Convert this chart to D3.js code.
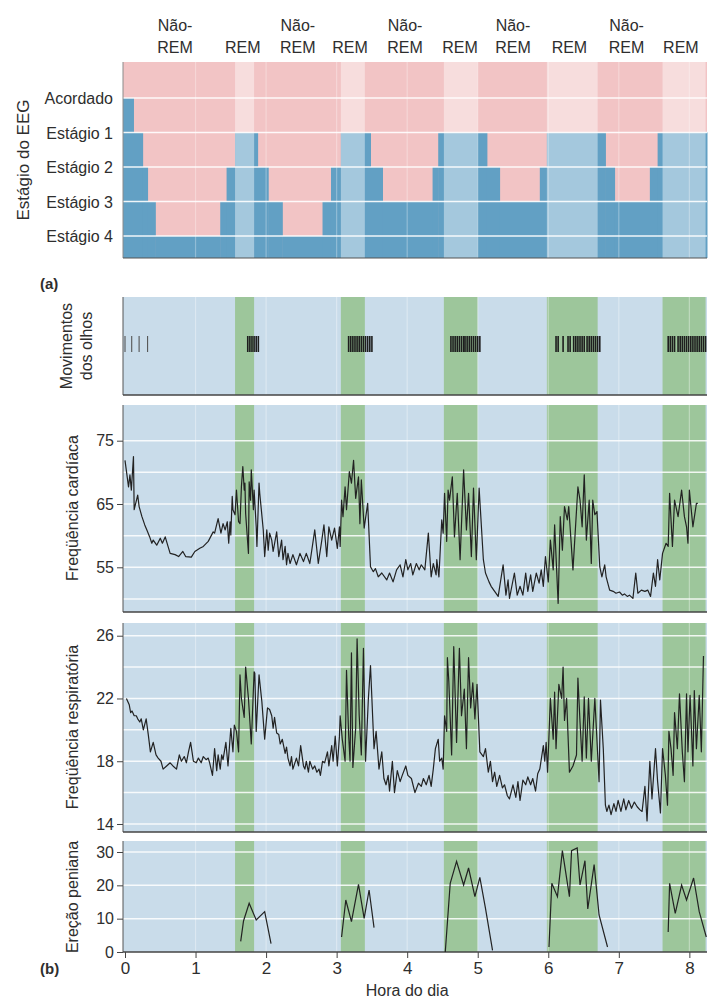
<!DOCTYPE html>
<html><head><meta charset="utf-8">
<script src="https://cdn.jsdelivr.net/npm/d3@7"></script>
<style>
body{margin:0;background:#fff}
text{font-family:"Liberation Sans",Arial,Helvetica,sans-serif;fill:#2e2e2e}
</style>
</head><body>
<svg id="c" width="722" height="1005"></svg>
<script>
// ---------------- DATA ----------------
const stageLabels = ["Acordado", "Estágio 1", "Estágio 2", "Estágio 3", "Estágio 4"];
// [start hour, stage index] (REM drawn at Estágio 1 level)
const stageSteps = [[0,0],[0.12,1],[0.25,2],[0.32,3],[0.43,4],[1.35,3],[1.44,2],[1.56,1],[1.83,1],[1.88,2],[2.03,3],[2.23,4],[2.80,3],[2.92,2],[3.06,1],[3.40,1],[3.48,2],[3.65,3],[4.36,2],[4.44,1],[4.52,1],[5.13,2],[5.31,3],[5.88,2],[5.98,1],[6.81,2],[6.94,3],[7.44,2],[7.55,1]];
const remPeriods = [[1.56,1.83],[3.06,3.40],[4.52,5.00],[5.98,6.70],[7.62,8.23]];
const phaseLabels = ["Não-REM","REM","Não-REM","REM","Não-REM","REM","Não-REM","REM","Não-REM","REM"];
const phaseHours = [0.71,1.67,2.45,3.19,3.97,4.75,5.50,6.30,7.11,7.88];

const eyeMovements = [0.00,0.095,0.20,0.32,
 1.74,1.77,1.80,1.83,1.86,1.89,
 3.17,3.20,3.23,3.26,3.29,3.32,3.35,3.38,3.41,3.44,3.47,3.50,
 4.62,4.65,4.68,4.71,4.74,4.77,4.80,4.82,4.85,4.88,4.91,4.94,4.97,5.00,5.03,
 6.11,6.14,6.21,6.28,6.31,6.36,6.39,6.42,6.45,6.48,6.51,6.55,6.58,6.61,6.64,6.67,6.70,6.73,
 7.70,7.73,7.76,7.79,7.84,7.87,7.90,7.93,7.96,7.99,8.02,8.05,8.08,8.11,8.14,8.17,8.20,8.23];

const heartRate = [[0.00,71.9],[0.05,67.7],[0.07,69.6],[0.09,67.2],[0.12,72.5],[0.13,64.1],[0.18,66.4],[0.20,64.6],[0.24,63.0],[0.28,61.7],[0.31,60.9],[0.35,59.8],[0.38,58.8],[0.40,59.3],[0.45,58.5],[0.50,59.6],[0.53,58.8],[0.57,59.8],[0.61,58.3],[0.64,57.2],[0.71,57.0],[0.76,56.7],[0.82,57.5],[0.86,56.7],[0.94,56.6],[0.99,57.5],[1.06,58.0],[1.11,58.3],[1.18,59.1],[1.25,60.6],[1.27,60.4],[1.32,62.7],[1.36,60.4],[1.39,61.9],[1.42,60.9],[1.45,62.2],[1.47,58.8],[1.49,62.2],[1.50,60.1],[1.52,66.2],[1.53,64.1],[1.56,63.3],[1.58,67.2],[1.61,62.2],[1.63,61.9],[1.65,67.7],[1.67,70.9],[1.69,67.2],[1.70,68.3],[1.71,63.5],[1.75,57.2],[1.76,68.5],[1.78,65.6],[1.79,70.4],[1.82,64.1],[1.83,67.2],[1.86,61.4],[1.87,58.3],[1.90,68.3],[1.91,66.7],[1.96,60.9],[1.98,56.7],[2.01,60.9],[2.03,57.7],[2.05,60.4],[2.08,59.3],[2.10,57.5],[2.15,60.6],[2.18,56.7],[2.22,59.3],[2.24,56.2],[2.27,58.3],[2.29,55.4],[2.31,57.2],[2.34,55.6],[2.38,57.0],[2.43,55.4],[2.48,57.2],[2.53,55.9],[2.57,57.2],[2.62,55.6],[2.69,60.9],[2.74,55.6],[2.79,59.3],[2.82,61.7],[2.86,56.7],[2.89,61.4],[2.93,59.3],[2.97,61.2],[3.01,58.0],[3.04,61.4],[3.05,58.3],[3.07,65.6],[3.09,63.0],[3.12,67.7],[3.14,64.1],[3.18,70.1],[3.21,68.3],[3.24,71.9],[3.27,65.9],[3.31,69.3],[3.33,61.9],[3.35,68.8],[3.39,61.2],[3.44,65.1],[3.48,55.1],[3.52,54.3],[3.55,54.8],[3.59,53.5],[3.64,54.1],[3.71,53.0],[3.75,54.1],[3.80,52.7],[3.85,54.6],[3.90,55.4],[3.94,53.5],[3.98,56.2],[4.01,54.6],[4.05,55.6],[4.08,53.8],[4.13,55.6],[4.17,54.6],[4.20,55.4],[4.25,54.6],[4.30,60.4],[4.34,53.5],[4.37,55.6],[4.41,53.8],[4.42,56.2],[4.45,53.5],[4.49,62.5],[4.51,60.4],[4.53,66.7],[4.56,59.1],[4.58,67.2],[4.60,65.6],[4.64,69.3],[4.67,59.8],[4.71,66.7],[4.75,56.2],[4.80,70.4],[4.84,60.9],[4.87,66.7],[4.91,56.7],[4.94,67.5],[4.98,56.2],[5.02,67.5],[5.08,56.2],[5.11,54.1],[5.16,52.7],[5.19,52.0],[5.24,51.2],[5.29,50.4],[5.36,55.4],[5.40,50.6],[5.43,53.0],[5.45,50.1],[5.52,54.1],[5.56,50.6],[5.60,52.0],[5.64,50.6],[5.68,54.1],[5.71,51.2],[5.75,53.8],[5.78,51.2],[5.83,54.1],[5.87,52.5],[5.90,54.6],[5.93,52.0],[5.96,56.7],[6.00,52.7],[6.03,59.3],[6.07,54.6],[6.09,61.7],[6.14,49.3],[6.17,63.0],[6.20,57.7],[6.23,64.6],[6.27,62.5],[6.29,64.6],[6.35,54.6],[6.42,67.7],[6.45,65.6],[6.48,61.4],[6.51,69.6],[6.54,59.3],[6.58,65.6],[6.61,55.6],[6.63,65.6],[6.66,63.3],[6.69,63.8],[6.73,55.1],[6.76,53.5],[6.80,55.4],[6.82,53.5],[6.87,51.4],[6.92,51.2],[6.96,50.9],[7.01,51.1],[7.05,50.6],[7.08,50.8],[7.12,50.4],[7.15,50.6],[7.20,50.1],[7.24,54.1],[7.27,50.9],[7.32,51.4],[7.37,51.2],[7.41,51.4],[7.45,50.4],[7.49,54.1],[7.52,52.0],[7.55,56.2],[7.58,53.0],[7.62,57.2],[7.67,58.8],[7.70,58.3],[7.72,66.7],[7.76,58.3],[7.79,65.6],[7.84,63.0],[7.89,67.2],[7.93,63.0],[7.96,61.4],[7.98,58.8],[8.00,67.2],[8.05,61.4],[8.10,65.1],[8.12,65.1]];

const respRate = [[0.02,22.0],[0.06,21.6],[0.08,21.1],[0.10,21.2],[0.13,20.9],[0.16,20.9],[0.18,20.7],[0.21,20.5],[0.23,20.7],[0.26,20.0],[0.30,20.7],[0.33,19.7],[0.36,18.6],[0.40,19.2],[0.44,18.4],[0.47,18.2],[0.51,18.0],[0.54,17.5],[0.59,17.7],[0.64,17.9],[0.68,17.7],[0.73,17.5],[0.77,18.4],[0.80,18.0],[0.84,18.3],[0.87,17.9],[0.90,18.6],[0.93,19.2],[0.97,18.0],[1.01,17.9],[1.04,18.2],[1.08,17.9],[1.11,18.3],[1.15,18.1],[1.18,18.2],[1.20,17.9],[1.24,17.1],[1.27,18.8],[1.30,17.4],[1.32,18.4],[1.35,17.5],[1.37,18.4],[1.39,18.1],[1.43,19.2],[1.46,17.7],[1.50,20.1],[1.53,18.6],[1.55,20.3],[1.58,19.9],[1.61,18.6],[1.63,23.5],[1.65,22.0],[1.69,20.8],[1.71,24.0],[1.75,22.0],[1.79,19.1],[1.83,23.7],[1.84,23.6],[1.86,19.9],[1.90,23.5],[1.94,21.8],[1.98,19.4],[2.02,21.4],[2.05,21.3],[2.08,20.9],[2.10,20.1],[2.12,20.8],[2.15,19.8],[2.18,19.7],[2.20,19.1],[2.23,19.4],[2.27,18.5],[2.29,18.9],[2.31,18.2],[2.34,17.7],[2.36,18.3],[2.38,17.5],[2.43,18.2],[2.46,17.7],[2.49,19.0],[2.53,17.7],[2.55,17.5],[2.57,18.0],[2.60,17.3],[2.62,18.0],[2.66,17.5],[2.69,17.7],[2.72,17.3],[2.75,17.5],[2.77,17.1],[2.80,18.0],[2.83,17.9],[2.87,18.6],[2.89,17.7],[2.93,19.0],[2.95,18.0],[2.98,19.6],[3.01,17.7],[3.04,19.6],[3.05,20.9],[3.08,19.4],[3.12,18.0],[3.14,23.8],[3.17,19.7],[3.19,18.0],[3.21,24.9],[3.23,17.6],[3.27,20.1],[3.29,25.8],[3.32,20.9],[3.35,18.4],[3.38,25.2],[3.41,18.0],[3.45,22.0],[3.48,24.1],[3.51,20.9],[3.53,18.8],[3.56,19.9],[3.60,17.5],[3.64,18.6],[3.67,16.9],[3.70,16.5],[3.73,17.1],[3.75,16.1],[3.79,18.0],[3.82,16.0],[3.86,17.4],[3.90,16.7],[3.93,17.1],[3.98,17.7],[4.01,17.1],[4.06,16.9],[4.11,16.0],[4.16,16.6],[4.20,16.4],[4.23,16.9],[4.27,16.5],[4.31,17.1],[4.34,16.4],[4.37,17.5],[4.40,18.8],[4.44,19.4],[4.46,18.0],[4.49,18.2],[4.51,17.5],[4.53,20.9],[4.56,19.9],[4.57,24.6],[4.59,23.1],[4.63,18.4],[4.66,25.3],[4.70,19.2],[4.74,25.2],[4.77,20.9],[4.81,22.6],[4.84,18.8],[4.87,24.6],[4.90,21.4],[4.93,23.0],[4.96,20.7],[4.99,22.9],[5.03,18.6],[5.08,18.3],[5.11,18.8],[5.15,17.3],[5.18,18.0],[5.21,16.7],[5.24,17.3],[5.27,16.4],[5.31,17.1],[5.35,16.3],[5.38,16.5],[5.42,15.8],[5.45,15.6],[5.50,16.5],[5.54,15.7],[5.57,16.7],[5.60,15.5],[5.64,16.8],[5.68,16.5],[5.71,17.0],[5.75,16.5],[5.78,16.9],[5.82,16.1],[5.85,17.2],[5.88,17.5],[5.93,19.0],[5.95,18.0],[5.97,19.2],[5.99,17.3],[6.03,22.0],[6.07,19.4],[6.09,22.4],[6.11,18.8],[6.15,22.9],[6.19,22.0],[6.21,24.0],[6.23,20.6],[6.26,22.0],[6.30,17.3],[6.35,17.7],[6.40,18.4],[6.42,23.3],[6.45,20.5],[6.48,18.0],[6.51,22.1],[6.54,18.2],[6.57,22.0],[6.61,18.0],[6.66,22.0],[6.72,16.7],[6.74,21.9],[6.78,18.8],[6.81,15.2],[6.83,14.8],[6.86,15.2],[6.89,14.6],[6.93,15.3],[6.96,14.8],[6.99,15.5],[7.03,14.8],[7.07,15.6],[7.10,14.9],[7.14,15.5],[7.18,15.0],[7.22,15.4],[7.26,15.1],[7.30,14.9],[7.33,14.8],[7.37,16.4],[7.40,14.2],[7.44,18.0],[7.47,15.6],[7.52,18.8],[7.55,16.7],[7.59,14.7],[7.62,18.8],[7.66,17.1],[7.69,15.2],[7.71,19.9],[7.74,18.8],[7.77,17.1],[7.79,21.1],[7.83,18.8],[7.86,22.3],[7.90,18.6],[7.93,16.7],[7.96,22.3],[7.98,18.6],[8.01,22.2],[8.05,17.7],[8.07,22.5],[8.10,18.8],[8.14,22.2],[8.17,18.6],[8.20,24.7]];

const erectionEpisodes = [
 [[1.64,3.2],[1.68,9.3],[1.76,14.6],[1.86,9.6],[1.98,12.1],[2.07,2.5]],
 [[3.07,4.5],[3.13,15.6],[3.21,9.1],[3.31,20.3],[3.39,10.1],[3.46,18.6],[3.53,7.3]],
 [[4.54,0.0],[4.61,20.6],[4.70,27.2],[4.80,20.1],[4.87,25.2],[4.96,16.6],[5.03,22.4],[5.11,13.1],[5.21,0.5]],
 [[6.01,1.5],[6.05,20.6],[6.13,16.6],[6.20,30.4],[6.30,16.6],[6.33,30.4],[6.41,31.2],[6.45,20.1],[6.52,27.4],[6.56,12.9],[6.65,26.2],[6.72,11.1],[6.84,1.5]],
 [[7.70,6.0],[7.72,20.6],[7.80,11.6],[7.89,20.1],[7.96,15.6],[8.06,22.2],[8.14,12.1],[8.24,4.5]]
];

const hourTicks = [0,1,2,3,4,5,6,7,8];
const heartTicks = [55,65,75];
const heartGrid = [50,55,60,65,70,75];
const respTicks = [14,18,22,26];
const respGrid = [14,16,18,20,22,24,26];
const erectionTicks = [0,10,20,30];

// ---------------- STYLE ----------------
const PINK = "#f2c4c5", BLUE = "#62a0c4", BG = "#c9dcea", GREEN = "#9dc69b", INK = "#222";

const svg = d3.select("#c");
const L = 123, R = 707;
const x = d3.scaleLinear().domain([0, 8.25]).range([125, 707]);

// ---------------- (a) HYPNOGRAM ----------------
const hT = 62, hB = 258;
const yStage = d3.scalePoint().domain(d3.range(5)).range([98, 236]);
const hg = svg.append("g");
hg.append("rect").attr("x", L).attr("y", hT).attr("width", R - L).attr("height", hB - hT).attr("fill", PINK);
hg.selectAll("rect.st").data(stageSteps).join("rect").attr("class","st")
  .attr("x", (d,i) => i === 0 ? L : x(d[0]))
  .attr("width", (d,i) => (i < stageSteps.length - 1 ? x(stageSteps[i+1][0]) : R) - (i === 0 ? L : x(d[0])) + 0.5)
  .attr("y", d => yStage(d[1]))
  .attr("height", d => hB - yStage(d[1]))
  .attr("fill", BLUE);
hg.selectAll("rect.rem").data(remPeriods).join("rect").attr("class","rem")
  .attr("x", d => x(d[0])).attr("width", d => x(d[1]) - x(d[0]))
  .attr("y", hT).attr("height", hB - hT).attr("fill", "#fff").attr("opacity", 0.42);
hg.selectAll("line.vg").data(hourTicks.slice(1)).join("line").attr("class","vg")
  .attr("x1", d => x(d)).attr("x2", d => x(d)).attr("y1", hT).attr("y2", hB)
  .attr("stroke", "#fff").attr("stroke-opacity", 0.3).attr("stroke-width", 1.2);
hg.selectAll("line.hg").data(d3.range(5)).join("line").attr("class","hg")
  .attr("x1", L).attr("x2", R).attr("y1", d => yStage(d)).attr("y2", d => yStage(d))
  .attr("stroke", "#fff").attr("stroke-width", 1.6).attr("stroke-opacity", 0.9);
hg.append("line").attr("x1", L).attr("x2", L).attr("y1", hT).attr("y2", hB).attr("stroke", "#8a8a8a");
hg.append("line").attr("x1", L).attr("x2", R).attr("y1", hB).attr("y2", hB).attr("stroke", "#555").attr("stroke-width", 1.2);
hg.selectAll("text.sl").data(stageLabels).join("text").attr("class","sl")
  .attr("x", 113).attr("y", (d,i) => yStage(i) + 6).attr("text-anchor", "end")
  .attr("font-size", 16).text(d => d);
hg.append("text").attr("transform", "translate(29,160) rotate(-90)").attr("text-anchor", "middle")
  .attr("font-size", 17).text("Estágio do EEG");

// phase labels on top
phaseLabels.forEach((lab, i) => {
  const cx = x(phaseHours[i]);
  if (lab.startsWith("Não")) {
    svg.append("text").attr("x", cx).attr("y", 31).attr("text-anchor", "middle").attr("font-size", 16).text("Não-");
    svg.append("text").attr("x", cx).attr("y", 53).attr("text-anchor", "middle").attr("font-size", 16).text("REM");
  } else {
    svg.append("text").attr("x", cx).attr("y", 53).attr("text-anchor", "middle").attr("font-size", 16).text(lab);
  }
});
svg.append("text").attr("x", 40).attr("y", 289).attr("font-size", 15).attr("font-weight", "bold").text("(a)");
svg.append("text").attr("x", 40).attr("y", 974).attr("font-size", 15).attr("font-weight", "bold").text("(b)");

// ---------------- (b) PANELS ----------------
function panelBase(top, bottom, grid, y) {
  const g = svg.append("g");
  g.append("rect").attr("x", L).attr("y", top).attr("width", R - L).attr("height", bottom - top).attr("fill", BG);
  g.selectAll("rect.rem").data(remPeriods).join("rect").attr("class","rem")
    .attr("x", d => x(d[0])).attr("width", d => x(d[1]) - x(d[0]))
    .attr("y", top).attr("height", bottom - top).attr("fill", GREEN);
  g.selectAll("line.vg").data(hourTicks.slice(1)).join("line").attr("class","vg")
    .attr("x1", d => x(d)).attr("x2", d => x(d)).attr("y1", top).attr("y2", bottom)
    .attr("stroke", "#fff").attr("stroke-opacity", 0.35).attr("stroke-width", 1.2);
  if (grid && y) {
    g.selectAll("line.hg").data(grid).join("line").attr("class","hg")
      .attr("x1", L).attr("x2", R).attr("y1", d => y(d)).attr("y2", d => y(d))
      .attr("stroke", "#fff").attr("stroke-width", 1.5).attr("stroke-opacity", 0.85);
  }
  g.append("line").attr("x1", L).attr("x2", L).attr("y1", top).attr("y2", bottom).attr("stroke", "#555");
  g.append("line").attr("x1", L).attr("x2", R).attr("y1", bottom).attr("y2", bottom).attr("stroke", "#444").attr("stroke-width", 1.3);
  return g;
}
function leftAxis(g, y, ticks) {
  const a = g.append("g").attr("transform", `translate(${L},0)`)
    .call(d3.axisLeft(y).tickValues(ticks).tickSize(6).tickSizeOuter(0).tickPadding(3));
  a.select(".domain").remove();
  a.selectAll("line").attr("stroke", "#444");
  a.selectAll("text").attr("font-size", 16).attr("fill", "#2e2e2e")
    .style("font-family", '"Liberation Sans",Arial,sans-serif');
}
function yTitle(lines, cx, cy) {
  const t = svg.append("text").attr("transform", `translate(${cx},${cy}) rotate(-90)`)
    .attr("text-anchor", "middle").attr("font-size", 16);
  lines.forEach((ln, i) => t.append("tspan").attr("x", 0).attr("dy", i === 0 ? 0 : 20).text(ln));
}

// Eye movements
const eT = 297, eB = 395;
const eg = panelBase(eT, eB, null, null);
eg.selectAll("line.eye").data(eyeMovements).join("line").attr("class","eye")
  .attr("x1", d => x(d)).attr("x2", d => x(d)).attr("y1", 336).attr("y2", 352)
  .attr("stroke", (d,i) => i < 4 ? "#555" : "#1e1e1e").attr("stroke-width", (d,i) => i < 4 ? 1.1 : 1.6);
yTitle(["Movimentos", "dos olhos"], 72, 346);

// Heart rate
const cT = 405, cB = 612;
const yHR = d3.scaleLinear().domain([47.94, 80.64]).range([cB, cT]);
const cg = panelBase(cT, cB, heartGrid, yHR);
cg.append("path").datum(heartRate)
  .attr("d", d3.line().x(d => x(d[0])).y(d => yHR(d[1])))
  .attr("fill", "none").attr("stroke", INK).attr("stroke-width", 1.2).attr("stroke-linejoin", "round");
leftAxis(cg, yHR, heartTicks);
yTitle(["Freqüência cardíaca"], 78, 508);

// Respiratory rate
const rT = 623, rB = 832;
const yR = d3.scaleLinear().domain([13.49, 26.81]).range([rB, rT]);
const rg = panelBase(rT, rB, respGrid, yR);
rg.append("path").datum(respRate)
  .attr("d", d3.line().x(d => x(d[0])).y(d => yR(d[1])))
  .attr("fill", "none").attr("stroke", INK).attr("stroke-width", 1.2).attr("stroke-linejoin", "round");
leftAxis(rg, yR, respTicks);
yTitle(["Freqüência respiratória"], 78, 727);

// Penile erection
const pT = 841, pB = 952;
const yP = d3.scaleLinear().domain([0, 33.3]).range([pB, pT]);
const pg = panelBase(pT, pB, [10,20,30], yP);
pg.selectAll("path.ep").data(erectionEpisodes).join("path").attr("class","ep")
  .attr("d", d3.line().x(d => x(d[0])).y(d => yP(d[1])))
  .attr("fill", "none").attr("stroke", INK).attr("stroke-width", 1.2);
leftAxis(pg, yP, erectionTicks);
yTitle(["Ereção peniana"], 78, 897);

// X axis
const xa = svg.append("g").attr("transform", `translate(0,${pB})`)
  .call(d3.axisBottom(x).tickValues(hourTicks).tickSize(6).tickSizeOuter(0).tickPadding(4));
xa.select(".domain").remove();
xa.selectAll("line").attr("stroke", "#444");
xa.selectAll("text").attr("font-size", 17).attr("fill", "#2e2e2e")
  .style("font-family", '"Liberation Sans",Arial,sans-serif');
svg.append("text").attr("x", x(4.0)).attr("y", 996).attr("text-anchor", "middle").attr("font-size", 16).text("Hora do dia");
</script>
</body></html>
